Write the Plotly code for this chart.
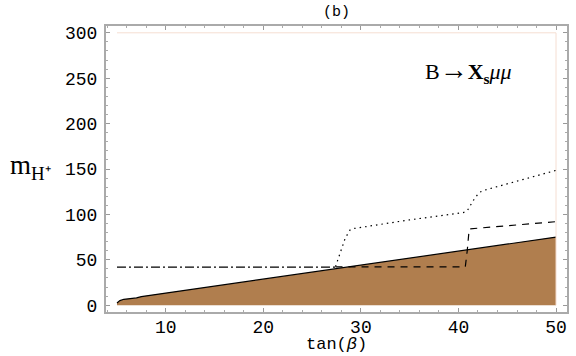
import plotly.graph_objects as go

# boundary of the excluded (filled) region
bound_x = [5, 5.3, 5.7, 7, 7.5, 50]
bound_y = [2.5, 5, 6.5, 8, 9.5, 75]

# dash-dot line (low tan beta)
dd_x = [5, 27.4]
dd_y = [42, 42]

# dotted curve
dot_x = [27.4, 27.8, 28.4, 28.9, 29.3, 35, 40.5, 40.9, 41.5, 42.1, 42.6, 50]
dot_y = [42.5, 55, 74, 83, 84.5, 94, 102, 104, 115, 124, 126.5, 148.5]

# dashed curve
dash_x = [27.4, 40.7, 40.9, 41.1, 50]
dash_y = [42.2, 42.2, 60, 84, 92]

# faint outer boundary
edge_x = [5, 50, 50]
edge_y = [300, 300, 0]

fig = go.Figure()

fig.add_trace(go.Scatter(x=bound_x, y=bound_y, mode="lines", fill="tozeroy",
                         fillcolor="rgb(176,126,78)", line=dict(color="black", width=1.2)))
fig.add_trace(go.Scatter(x=edge_x, y=edge_y, mode="lines",
                         line=dict(color="rgb(245,222,210)", width=1)))
fig.add_trace(go.Scatter(x=dd_x, y=dd_y, mode="lines",
                         line=dict(color="black", width=1.2, dash="9px,3px,2px,3px")))
fig.add_trace(go.Scatter(x=dot_x, y=dot_y, mode="lines",
                         line=dict(color="black", width=1.2, dash="1.5px,4px")))
fig.add_trace(go.Scatter(x=dash_x, y=dash_y, mode="lines",
                         line=dict(color="black", width=1.2, dash="7px,6px")))

mono = "Liberation Mono"
axis_common = dict(showgrid=False, zeroline=False, showline=True, linecolor="#aaaaaa",
                   linewidth=2, mirror="ticks", ticks="inside", ticklen=4, tickcolor="#999999",
                   automargin=False,
                   tickfont=dict(family=mono, size=18, color="black"))

fig.update_xaxes(range=[3.875, 51.125], tickvals=[10, 20, 30, 40, 50], ticklabelstandoff=-3,
                 minor=dict(dtick=2, tick0=0, ticks="inside", ticklen=2, tickcolor="#aaaaaa"),
                 **axis_common)
fig.update_yaxes(range=[-7.5, 307.5], tickvals=[0, 50, 100, 150, 200, 250, 300], ticklabelstandoff=3,
                 minor=dict(dtick=10, tick0=0, ticks="inside", ticklen=2, tickcolor="#aaaaaa"),
                 **axis_common)

fig.add_annotation(text="tan(<i>β</i>)", xref="paper", yref="paper", x=0.5, y=0, yshift=-44,
                   xanchor="center", yanchor="bottom", showarrow=False,
                   font=dict(family=mono, size=17, color="black"))
fig.add_annotation(text="m<sub>H⁺</sub>", xref="paper", yref="paper", x=-0.213, y=0.5, yshift=2,
                   xanchor="left", yanchor="middle", showarrow=False,
                   font=dict(family="Liberation Serif", size=27, color="black"))
fig.add_annotation(text="(b)", xref="paper", yref="paper", x=0.5, y=1.0, yshift=14,
                   xanchor="center", yanchor="middle", showarrow=False,
                   font=dict(family=mono, size=15, color="black"))
fig.add_annotation(text="B<span style='font-family:Liberation Serif;font-size:28px'>→</span><b>X<sub>s</sub></b><i>μμ</i>",
                   x=36.4, y=258, xanchor="left", yanchor="middle", showarrow=False,
                   font=dict(family="Liberation Serif", size=22, color="black"))

fig.update_layout(width=576, height=356, showlegend=False,
                  margin=dict(l=106, r=9, t=26, b=44),
                  plot_bgcolor="white", paper_bgcolor="white")

# drop the default body margin so the figure fills the window
fig.write_html("out.html", config={"displayModeBar": False},
               post_script="document.body.style.margin='0';")
